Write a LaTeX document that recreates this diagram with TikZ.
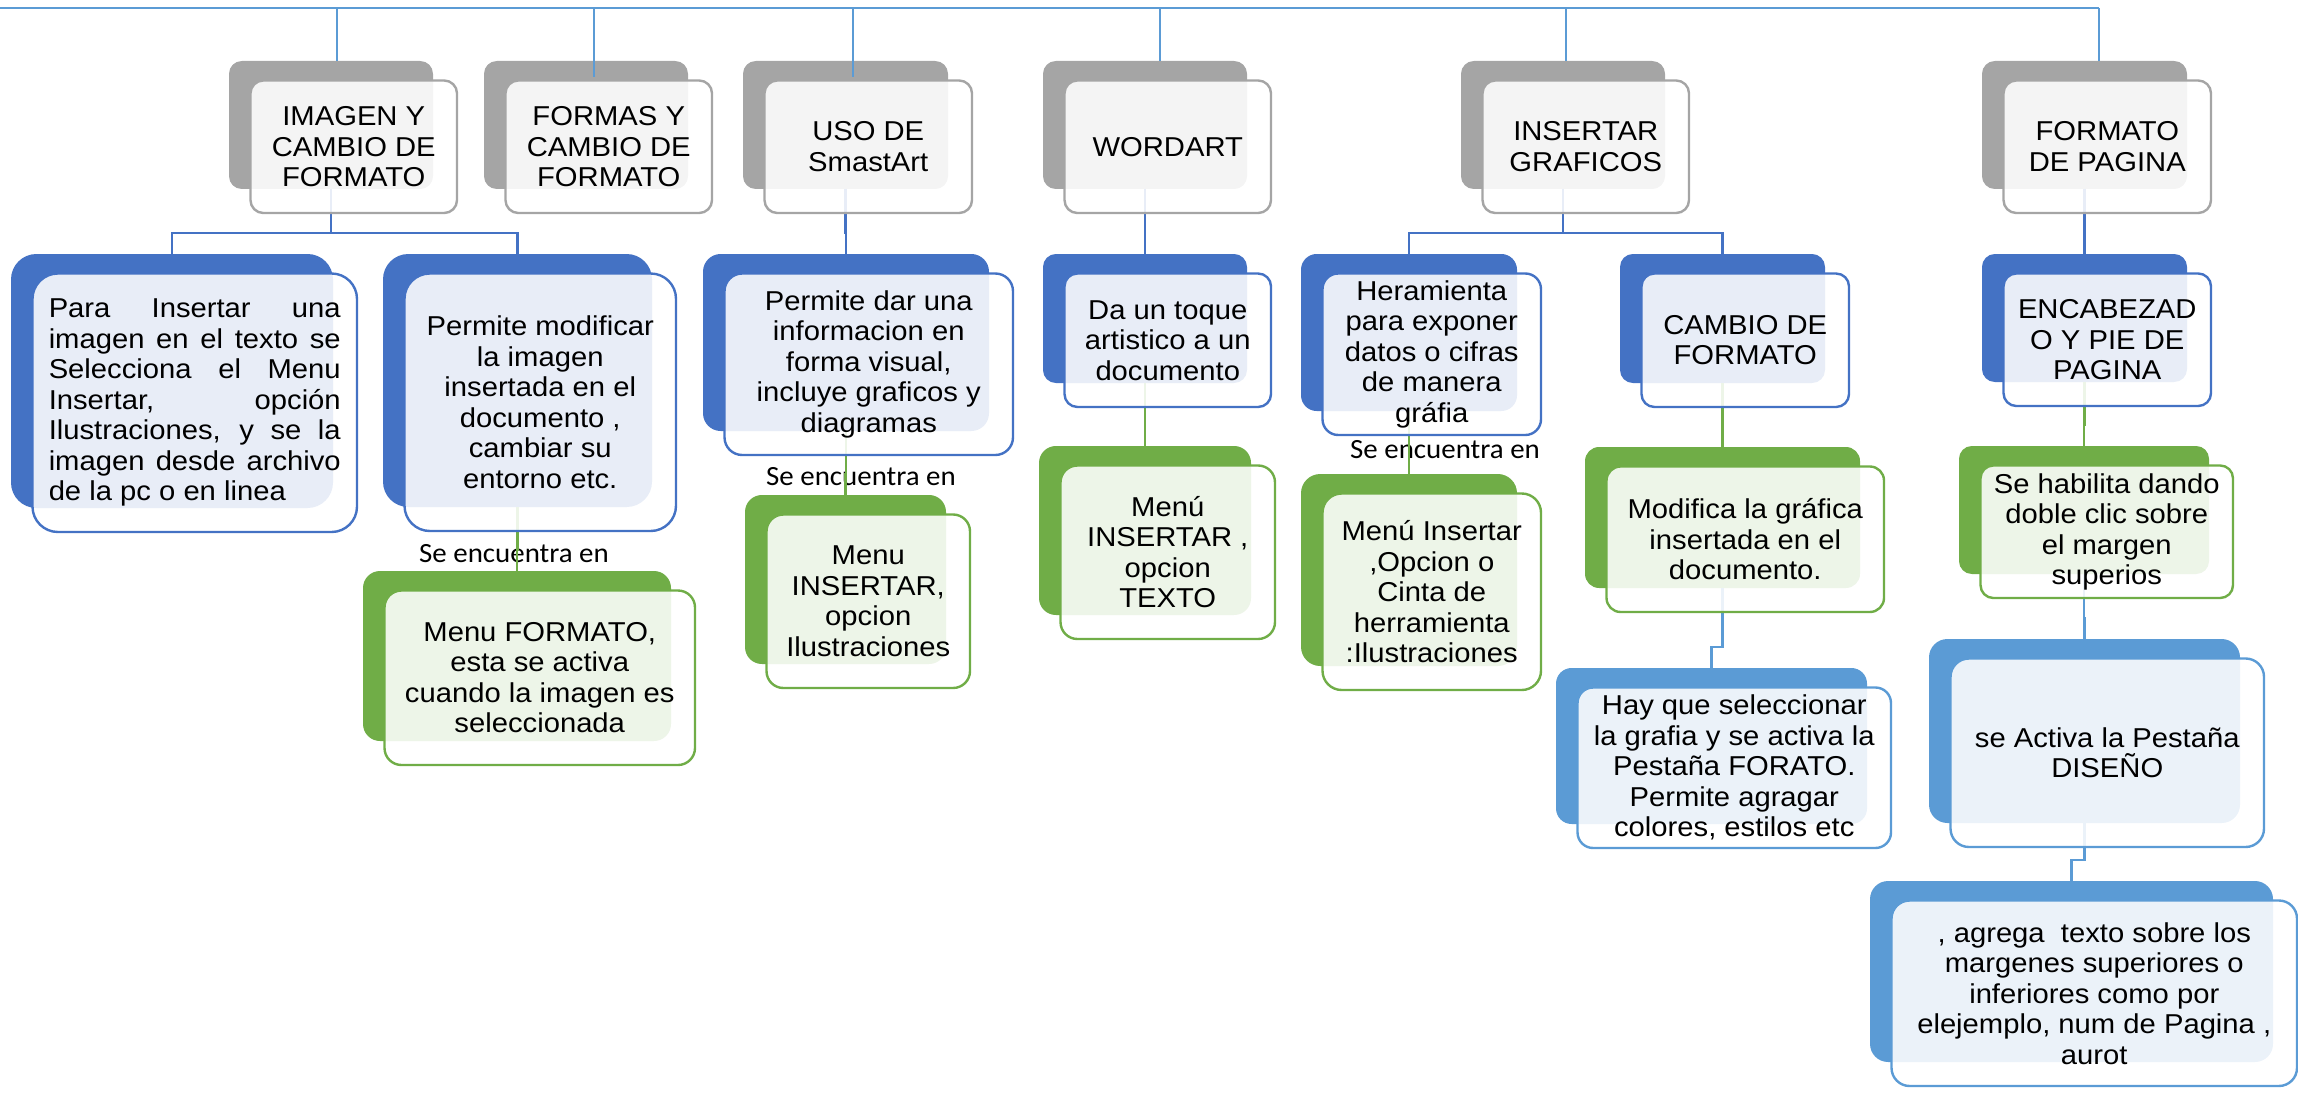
\documentclass[tikz,border=0pt]{standalone}
\usepackage{fontspec}
\setmainfont{Liberation Sans}[FakeStretch=1.07]
\newfontfamily\calib{Carlito}[FakeStretch=1.04]
\usetikzlibrary{calc}
\pgfdeclarelayer{backl}
\pgfdeclarelayer{frontl}
\pgfsetlayers{backl,main,frontl}
\definecolor{cgray}{HTML}{A5A5A5}
\definecolor{cblue}{HTML}{4472C4}
\definecolor{cgreen}{HTML}{70AD47}
\definecolor{clblue}{HTML}{5B9BD5}
\tikzset{
  backbox/.style={shape=rectangle, inner sep=0pt, outer sep=0pt, draw=none},
  frontbox/.style={shape=rectangle, inner sep=0pt, outer sep=0pt, line width=2.4pt, fill=white, fill opacity=0.88},
  boxtext/.style={align=center, inner sep=0pt, font=\fontsize{27.3}{30.5}\selectfont, text=black},
  lbl/.style={anchor=base, inner sep=0pt, font=\calib\fontsize{27.8}{30}\selectfont, text=black},
  topline/.style={draw=clblue, line width=1.6pt},
  bline/.style={draw=cblue, line width=2.2pt},
  gline/.style={draw=cgreen, line width=2.2pt},
  lline/.style={draw=clblue, line width=2.2pt},
}
% #1 name, #2 colour, #3 x1, #4 y1, #5 x2, #6 y2 (back shape), #7 text options, #8 text
\newcommand{\twobox}[8]{%
  \pgfmathsetmacro{\tbw}{#5-#3}%
  \pgfmathsetmacro{\tbh}{#6-#4}%
  \pgfmathsetmacro{\tbr}{0.1*min(\tbw,\tbh)}%
  \pgfmathsetmacro{\tbx}{(#3+#5)/2}%
  \pgfmathsetmacro{\tby}{(#4+#6)/2}%
  \pgfmathsetmacro{\tfw}{\tbw+2.5}%
  \pgfmathsetmacro{\tfh}{\tbh+4.5}%
  \pgfmathsetmacro{\tfx}{\tbx+22.75}%
  \pgfmathsetmacro{\tfy}{\tby+21.75}%
  \begin{pgfonlayer}{backl}
    \node[backbox, fill=#2, minimum width=\tbw pt, minimum height=\tbh pt, rounded corners=\tbr pt] (#1b) at (\tbx,\tby) {};
  \end{pgfonlayer}
  \begin{pgfonlayer}{frontl}
    \node[frontbox, draw=#2, minimum width=\tfw pt, minimum height=\tfh pt, rounded corners=\tbr pt] (#1) at (\tfx,\tfy) {};
    \node[boxtext, #7] (#1t) at (\tfx,\tfy) {#8};
  \end{pgfonlayer}
}
\newcommand{\linkto}[3]{\draw[#1] (#2b.south) |- ($(#3b.north)+(0,-21)$) -| (#3b.north);}
\begin{document}
\begin{tikzpicture}[x=1pt,y=-1pt]
\useasboundingbox (0,0) rectangle (2298,1094);
% headers
\twobox{img}{cgray}{229}{61}{433}{189}{}{IMAGEN Y\\CAMBIO DE\\FORMATO}
\twobox{for}{cgray}{484}{61}{688}{189}{}{FORMAS Y\\CAMBIO DE\\FORMATO}
\twobox{uso}{cgray}{743}{61}{948}{189}{}{USO DE\\SmastArt}
\twobox{wor}{cgray}{1043}{61}{1247}{189}{}{WORDART}
\twobox{ins}{cgray}{1461}{61}{1665}{189}{}{INSERTAR\\GRAFICOS}
\twobox{fpg}{cgray}{1982}{61}{2187}{189}{}{FORMATO\\DE PAGINA}
% second level
\twobox{para}{cblue}{11}{254}{333}{508}{align=left}{%
\makebox[292pt][s]{Para Insertar una}\\
\makebox[292pt][s]{imagen en el texto se}\\
\makebox[292pt][s]{Selecciona el Menu}\\
\makebox[292pt][s]{Insertar, opción}\\
\makebox[292pt][s]{Ilustraciones, y se la}\\
\makebox[292pt][s]{imagen desde archivo}\\
de la pc o en linea}
\twobox{mod}{cblue}{383}{254}{652}{507}{}{Permite modificar\\la imagen\\insertada en el\\documento ,\\cambiar su\\entorno etc.}
\twobox{pda}{cblue}{703}{254}{989}{431}{}{Permite dar una\\informacion en\\forma visual,\\incluye graficos y\\diagramas}
\twobox{toq}{cblue}{1043}{254}{1247}{383}{}{Da un toque\\artistico a un\\documento}
\twobox{her}{cblue}{1301}{254}{1517}{411}{}{Heramienta\\para exponer\\datos o cifras\\de manera\\gráfia}
\twobox{cam}{cblue}{1620}{254}{1825}{383}{}{CAMBIO DE\\FORMATO}
\twobox{enc}{cblue}{1982}{254}{2187}{382}{}{ENCABEZAD\\O Y PIE DE\\PAGINA}
% third level
\twobox{mfo}{cgreen}{363}{571}{671}{741}{}{Menu FORMATO,\\esta se activa\\cuando la imagen es\\seleccionada}
\twobox{min}{cgreen}{745}{495}{946}{664}{}{Menu\\INSERTAR,\\opcion\\Ilustraciones}
\twobox{mte}{cgreen}{1039}{446}{1251}{615}{}{Menú\\INSERTAR ,\\opcion\\TEXTO}
\twobox{mei}{cgreen}{1301}{474}{1517}{666}{}{Menú Insertar\\,Opcion o\\Cinta de\\herramienta\\:Ilustraciones}
\twobox{mdf}{cgreen}{1585}{447}{1860}{588}{}{Modifica la gráfica\\insertada en el\\documento.}
\twobox{hab}{cgreen}{1959}{446}{2209}{574}{}{Se habilita dando\\doble clic sobre\\el margen\\superios}
% fourth level
\twobox{hay}{clblue}{1556}{668}{1867}{824}{}{Hay que seleccionar\\la grafia y se activa la\\Pestaña FORATO.\\Permite agragar\\colores, estilos etc}
\twobox{dis}{clblue}{1929}{639}{2240}{823}{}{se Activa la Pestaña\\DISEÑO}
\twobox{agr}{clblue}{1870}{881}{2273}{1062}{}{, agrega\ \ texto sobre los\\margenes superiores o\\inferiores como por\\elejemplo, num de Pagina ,\\aurot}
% labels
\node[lbl] (se1) at (514,562) {Se encuentra en};
\node[lbl] (se2) at (861,485) {Se encuentra en};
\node[lbl] (se3) at (1445,458) {Se encuentra en};
% top connectors
\coordinate (T0) at (0,8);
\foreach \n/\dx/\ey in {img/6/0, for/8/16, uso/7.5/16, wor/15/0, ins/3/0, fpg/14.5/0}{
  \coordinate (\n top) at ($(\n b.north)+(\dx,\ey)$);
  \coordinate (\n up) at (\n top |- T0);
  \draw[topline] (\n top) -- (\n up);
}
\draw[topline] (T0) -- (fpgup);
% level connectors
\linkto{bline}{img}{para}
\linkto{bline}{img}{mod}
\linkto{bline}{uso}{pda}
\linkto{bline}{wor}{toq}
\linkto{bline}{ins}{her}
\linkto{bline}{ins}{cam}
\linkto{bline}{fpg}{enc}
\linkto{gline}{mod}{mfo}
\linkto{gline}{pda}{min}
\linkto{gline}{toq}{mte}
\linkto{gline}{her}{mei}
\linkto{gline}{cam}{mdf}
\linkto{gline}{enc}{hab}
\linkto{lline}{mdf}{hay}
\linkto{lline}{hab}{dis}
\linkto{lline}{dis}{agr}
\end{tikzpicture}
\end{document}
